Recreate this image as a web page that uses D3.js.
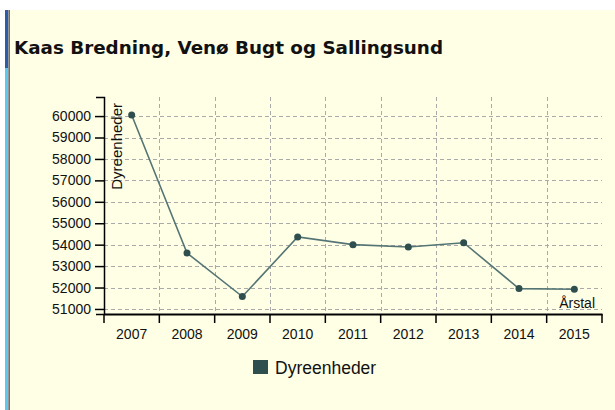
<!DOCTYPE html>
<html><head><meta charset="utf-8">
<script src="https://cdn.jsdelivr.net/npm/d3@7"></script>
<style>
html,body{margin:0;padding:0;background:#fff;}
svg{display:block;}
</style></head>
<body>
<svg id="c" width="615" height="410"></svg>
<script>
const title = "Kaas Bredning, Venø Bugt og Sallingsund";
const years = ["2007","2008","2009","2010","2011","2012","2013","2014","2015"];
const values = [60050, 53610, 51580, 54360, 54000, 53890, 54090, 51950, 51920];
const yTicks = [51000,52000,53000,54000,55000,56000,57000,58000,59000,60000];
const seriesName = "Dyreenheder";
const yLabel = "Dyreenheder";
const xLabel = "Årstal";

const FONT = "Liberation Sans, Arial, sans-serif";
const svg = d3.select("#c");
// page background & left border
svg.append("rect").attr("x",10).attr("y",10).attr("width",605).attr("height",400).attr("fill","#ffffe6");
svg.append("rect").attr("x",5).attr("y",10).attr("width",3).attr("height",400).attr("fill","#5bc8ec");
svg.append("rect").attr("x",5).attr("y",10).attr("width",3).attr("height",58).attr("fill","#2a5caa");
svg.append("rect").attr("x",8.5).attr("y",10).attr("width",1.2).attr("height",400).attr("fill","#333");

svg.append("text").attr("x",14).attr("y",54).text(title)
  .attr("font-family","DejaVu Sans, Verdana").attr("font-weight","bold").attr("font-size",17.5)
  .attr("textLength",429).attr("lengthAdjust","spacingAndGlyphs").attr("fill","#111");

const L=104, R=602, T=97, B=314;
const x = d3.scaleBand().domain(years).range([L,R]);
const y = d3.scaleLinear().domain([50765,60890]).range([B,T]);

const g = svg.append("g");
// grid
g.selectAll(".hg").data(yTicks).enter().append("line")
  .attr("x1",L).attr("x2",R).attr("y1",d=>Math.round(y(d))+0.5).attr("y2",d=>Math.round(y(d))+0.5)
  .attr("stroke","#aaa").attr("stroke-dasharray","4,3");
g.selectAll(".vg").data(years.slice(1)).enter().append("line")
  .attr("x1",d=>Math.round(x(d))+0.5).attr("x2",d=>Math.round(x(d))+0.5)
  .attr("y1",T).attr("y2",B).attr("stroke","#aaa").attr("stroke-dasharray","4,3");

// axes
const yAxis = d3.axisLeft(y).tickValues(yTicks).tickFormat(d3.format("d")).tickSize(9).tickSizeOuter(8).tickPadding(4);
const ya = svg.append("g").attr("transform",`translate(${L},0)`).call(yAxis);
ya.selectAll("text").attr("font-family",FONT).attr("font-size",14).attr("fill","#111");
ya.selectAll("path,line").attr("stroke","#000").attr("stroke-width",1.5);

const xAxis = d3.axisBottom(x).tickSize(0).tickSizeOuter(0);
const xa = svg.append("g").attr("transform",`translate(0,${B})`).call(xAxis);
xa.select("path").attr("stroke","#000").attr("stroke-width",2);
xa.selectAll("text").attr("font-family",FONT).attr("font-size",14).attr("fill","#111").attr("y",15).attr("dy","0.71em");
// boundary ticks
const bounds = years.map(d=>x(d)).concat([R]);
xa.selectAll(".bt").data(bounds).enter().append("line")
  .attr("x1",d=>d).attr("x2",d=>d).attr("y1",0).attr("y2",9).attr("stroke","#000").attr("stroke-width",1.5);

// line
const line = d3.line().x((d,i)=>x(years[i])+x.bandwidth()/2).y(d=>y(d));
svg.append("path").datum(values).attr("d",line).attr("fill","none")
  .attr("stroke","#557575").attr("stroke-width",1.6);
svg.selectAll(".pt").data(values).enter().append("circle")
  .attr("cx",(d,i)=>x(years[i])+x.bandwidth()/2).attr("cy",d=>y(d)).attr("r",3.5).attr("fill","#2f4f4f");

// axis labels
svg.append("text").attr("transform",`translate(${L+18},${T+6}) rotate(-90)`).attr("text-anchor","end")
  .attr("font-family",FONT).attr("font-size",15).attr("fill","#111").text(yLabel);
svg.append("text").attr("x",R-7).attr("y",B-6).attr("text-anchor","end")
  .attr("font-family",FONT).attr("font-size",14).attr("fill","#111").text(xLabel);

// legend
svg.append("rect").attr("x",253).attr("y",360).attr("width",15).attr("height",14).attr("fill","#2f4f4f");
svg.append("text").attr("x",275).attr("y",374).attr("font-family",FONT).attr("font-size",17.5)
  .attr("fill","#111").text(seriesName);
</script>
</body></html>
